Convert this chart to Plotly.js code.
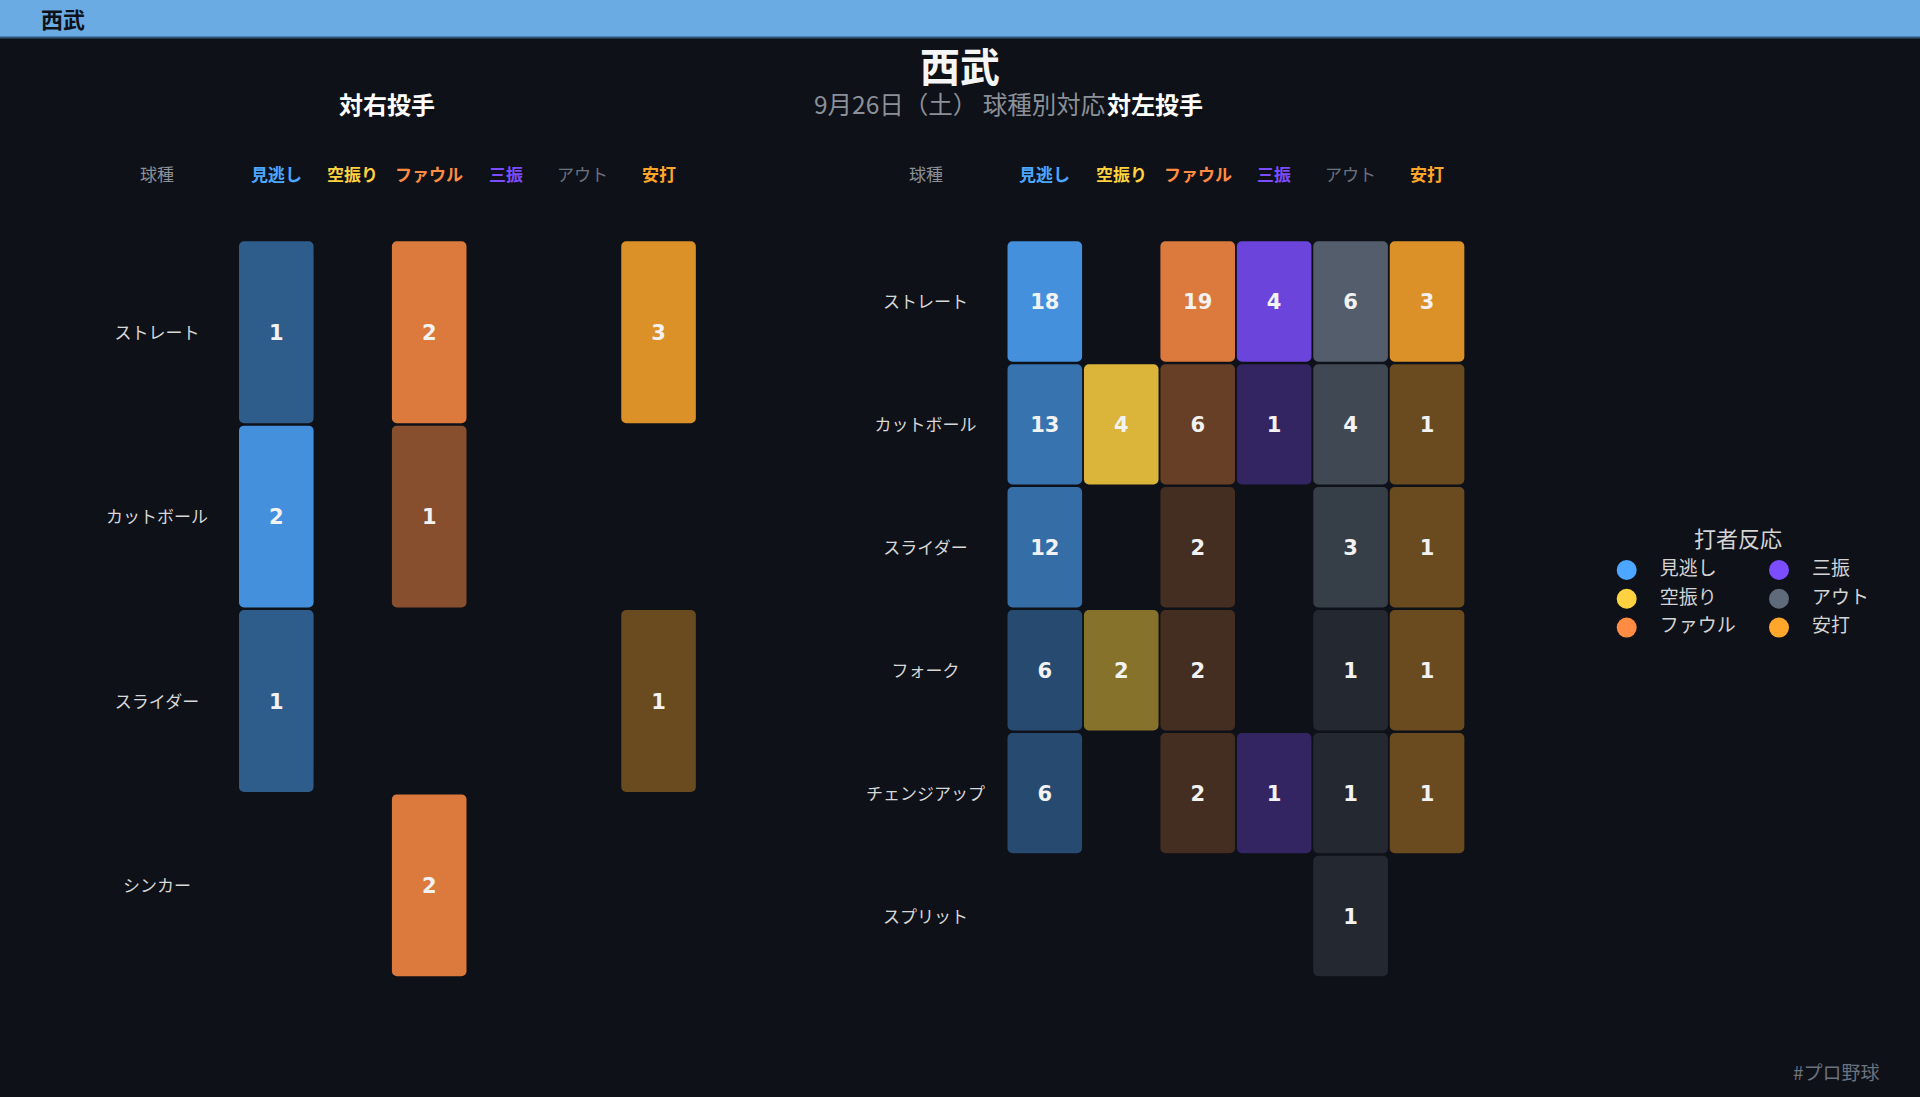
<!DOCTYPE html>
<html>
<head>
<meta charset="utf-8">
<script src="https://cdn.plot.ly/plotly-3.0.1.min.js"></script>
<style>
  html, body { margin: 0; padding: 0; background: #0e1117; }
  #chart { width: 1920px; height: 1097px; }
</style>
</head>
<body>
<div id="chart"></div>
<script>
// ---------------- DATA ----------------
const teamName = '西武';
const subtitleText = '9月26日（土） 球種別対応';
const panelTitleRight = '対右投手';
const panelTitleLeft = '対左投手';
const pitchHeader = '球種';
const legendTitle = '打者反応';
const hashtag = '#プロ野球';

const responses = ['見逃し', '空振り', 'ファウル', '三振', 'アウト', '安打'];
const responseColors = ['#4da6ff', '#ffd23f', '#ff8c42', '#7c4dff', '#5f6b7a', '#ffa62b'];
const headerColors = ['#4da6ff', '#ffd23f', '#ff8c42', '#7c4dff', '#6b7280', '#ffa62b'];
const headerBold = [true, true, true, true, false, true];

// vs right-handed pitchers
const pitchesVsRight = ['ストレート', 'カットボール', 'スライダー', 'シンカー'];
const countsVsRight = [
  [1, 0, 2, 0, 0, 3],
  [2, 0, 1, 0, 0, 0],
  [1, 0, 0, 0, 0, 1],
  [0, 0, 2, 0, 0, 0]
];

// vs left-handed pitchers
const pitchesVsLeft = ['ストレート', 'カットボール', 'スライダー', 'フォーク', 'チェンジアップ', 'スプリット'];
const countsVsLeft = [
  [18, 0, 19, 4, 6, 3],
  [13, 4, 6, 1, 4, 1],
  [12, 0, 2, 0, 3, 1],
  [6, 2, 2, 0, 1, 1],
  [6, 0, 2, 1, 1, 1],
  [0, 0, 0, 0, 1, 0]
];

// ---------------- LAYOUT CONSTANTS ----------------
const W = 1920, H = 1097;
const BG = '#0e1117';
const JP = 'Noto Sans CJK JP';
const colPitch = 76.45;      // px between column centres
const cellWpx = 74.6;        // px cell width
const gapYpx = 2.5;          // px vertical gap
const yTopPx = 240, yBotPx = 977.5;
const textShiftPx = 2.5;     // optical centring of text
const labelCol = -1.56;      // pitch label column (in column units)
const xLo = -2.4, xHi = 5.6;

function hexToRgb(h) {
  const n = parseInt(h.slice(1), 16);
  return [(n >> 16) & 255, (n >> 8) & 255, n & 255];
}
function blend(hex, a) {
  const c = hexToRgb(hex), b = hexToRgb(BG);
  const r = c.map((v, k) => Math.round(b[k] * (1 - a) + v * a));
  return 'rgb(' + r.join(',') + ')';
}
const py = p => 1 - p / H;
const px = p => p / W;

const traces = [];
const annotations = [];
const layoutAxes = {};

function buildPanel(idx, pitches, counts, firstColPx, titleText, titleXPx) {
  const xa = idx === 1 ? 'x' : 'x' + idx;
  const ya = idx === 1 ? 'y' : 'y' + idx;
  const xKey = idx === 1 ? 'xaxis' : 'xaxis' + idx;
  const yKey = idx === 1 ? 'yaxis' : 'yaxis' + idx;
  const n = pitches.length;
  const rowPx = (yBotPx - yTopPx) / n;
  const g = gapYpx / rowPx;
  const dy = textShiftPx / rowPx;

  layoutAxes[xKey] = {
    domain: [px(firstColPx + xLo * colPitch), px(firstColPx + xHi * colPitch)],
    range: [xLo, xHi], visible: false, fixedrange: true
  };
  layoutAxes[yKey] = {
    domain: [py(yBotPx), py(yTopPx)],
    range: [n, 0], visible: false, fixedrange: true
  };

  const colMax = responses.map((_, j) => Math.max(...counts.map(r => r[j])));
  const bx = [], bbase = [], by = [], bcol = [];
  const tx = [], ty = [], tt = [];
  counts.forEach((row, i) => {
    row.forEach((v, j) => {
      if (v <= 0) return;
      const a = 0.15 + 0.7 * v / colMax[j];
      bx.push(j); bbase.push(i + g / 2); by.push(1 - g);
      bcol.push(blend(responseColors[j], a));
      tx.push(j); ty.push(i + 0.5 + dy); tt.push(String(v));
    });
  });

  traces.push({
    type: 'bar', x: bx, y: by, base: bbase, width: cellWpx / colPitch,
    xaxis: xa, yaxis: ya, hoverinfo: 'skip', textposition: 'none',
    marker: { color: bcol, cornerradius: 5, line: { width: 0 } },
    showlegend: false
  });
  traces.push({
    type: 'scatter', mode: 'text', x: tx, y: ty, text: tt,
    xaxis: xa, yaxis: ya, hoverinfo: 'skip', showlegend: false, cliponaxis: false,
    textfont: { family: 'DejaVu Sans', size: 21, color: '#f2f2f2', weight: 'bold' }
  });
  traces.push({
    type: 'scatter', mode: 'text', x: pitches.map(() => labelCol),
    y: pitches.map((_, i) => i + 0.5 + dy), text: pitches,
    xaxis: xa, yaxis: ya, hoverinfo: 'skip', showlegend: false, cliponaxis: false,
    textfont: { family: JP, size: 17, color: '#d8d8d8' }
  });

  // column headers
  annotations.push({
    xref: xa, yref: 'paper', x: labelCol, y: py(174), xanchor: 'center', yanchor: 'middle',
    text: pitchHeader, showarrow: false, font: { family: JP, size: 17, color: '#8b9099' }
  });
  responses.forEach((r, j) => {
    annotations.push({
      xref: xa, yref: 'paper', x: j, y: py(174), xanchor: 'center', yanchor: 'middle',
      text: headerBold[j] ? '<b>' + r + '</b>' : r, showarrow: false,
      font: { family: JP, size: 17, color: headerColors[j] }
    });
  });
  // panel title
  annotations.push({
    xref: 'paper', yref: 'paper', x: px(titleXPx), y: py(103), xanchor: 'center', yanchor: 'middle',
    text: '<b>' + titleText + '</b>', showarrow: false,
    font: { family: JP, size: 24, color: '#ffffff' }
  });
}

buildPanel(1, pitchesVsRight, countsVsRight, 276.3, panelTitleRight, 386.5);
buildPanel(2, pitchesVsLeft, countsVsLeft, 1044.8, panelTitleLeft, 1155);

// ---------------- CUSTOM LEGEND (own hidden axes, pixel units) ----------------
layoutAxes.xaxis3 = { domain: [px(1580), px(1910)], range: [1580, 1910], visible: false, fixedrange: true };
layoutAxes.yaxis3 = { domain: [py(660), py(510)], range: [660, 510], visible: false, fixedrange: true };
const lgX0 = 1626.7, lgColStep = 152.3, lgY0 = 570, lgRowStep = 28.8, lgTextOff = 33;
const lgx = responses.map((_, k) => lgX0 + Math.floor(k / 3) * lgColStep);
const lgy = responses.map((_, k) => lgY0 + (k % 3) * lgRowStep);
traces.push({
  type: 'scatter', mode: 'markers', x: lgx, y: lgy, xaxis: 'x3', yaxis: 'y3',
  marker: { size: 20, color: responseColors, line: { width: 0 } },
  hoverinfo: 'skip', showlegend: false, cliponaxis: false
});
traces.push({
  type: 'scatter', mode: 'text', x: lgx.map(v => v + lgTextOff), y: lgy, text: responses,
  textposition: 'middle right', xaxis: 'x3', yaxis: 'y3',
  textfont: { family: JP, size: 19, color: '#d4d4d4' },
  hoverinfo: 'skip', showlegend: false, cliponaxis: false
});
annotations.push({
  xref: 'paper', yref: 'paper', x: px(1738), y: py(536.5), xanchor: 'center', yanchor: 'middle',
  text: legendTitle, showarrow: false, font: { family: JP, size: 22, color: '#d4d4d4' }
});

// ---------------- TEXT ----------------
annotations.push({
  xref: 'paper', yref: 'paper', x: px(39), y: py(18), xanchor: 'left', yanchor: 'middle',
  text: '<b>' + teamName + '</b>', showarrow: false, font: { family: JP, size: 22, color: '#0e1117' }
});
annotations.push({
  xref: 'paper', yref: 'paper', x: px(959), y: py(103), xanchor: 'center', yanchor: 'middle',
  text: subtitleText, showarrow: false, font: { family: JP, size: 24.5, color: '#8b9099' }
});
annotations.push({
  xref: 'paper', yref: 'paper', x: px(1882), y: py(1071), xanchor: 'right', yanchor: 'middle',
  text: hashtag, showarrow: false, font: { family: JP, size: 19, color: '#6b7280' }
});

const layout = Object.assign({
  width: W, height: H,
  margin: { l: 0, r: 0, t: 0, b: 0, pad: 0 },
  paper_bgcolor: BG, plot_bgcolor: 'rgba(0,0,0,0)',
  barmode: 'overlay', showlegend: false,
  font: { family: JP, color: '#d8d8d8' },
  title: {
    text: '<b>' + teamName + '</b>', x: 0.5, xanchor: 'center', xref: 'paper',
    y: py(68), yanchor: 'middle', yref: 'container',
    font: { family: JP, size: 40, color: '#f5f5f5' }
  },
  shapes: [
    { type: 'rect', xref: 'paper', yref: 'paper', x0: 0, x1: 1, y0: py(38), y1: 1,
      fillcolor: '#6aabe4', line: { width: 0 }, layer: 'below' },
    { type: 'rect', xref: 'paper', yref: 'paper', x0: 0, x1: 1, y0: py(38.5), y1: py(36.5),
      fillcolor: '#2f5678', line: { width: 0 }, layer: 'below' }
  ],
  annotations: annotations
}, layoutAxes);

Plotly.newPlot('chart', traces, layout, { displayModeBar: false, staticPlot: true });
</script>
</body>
</html>
